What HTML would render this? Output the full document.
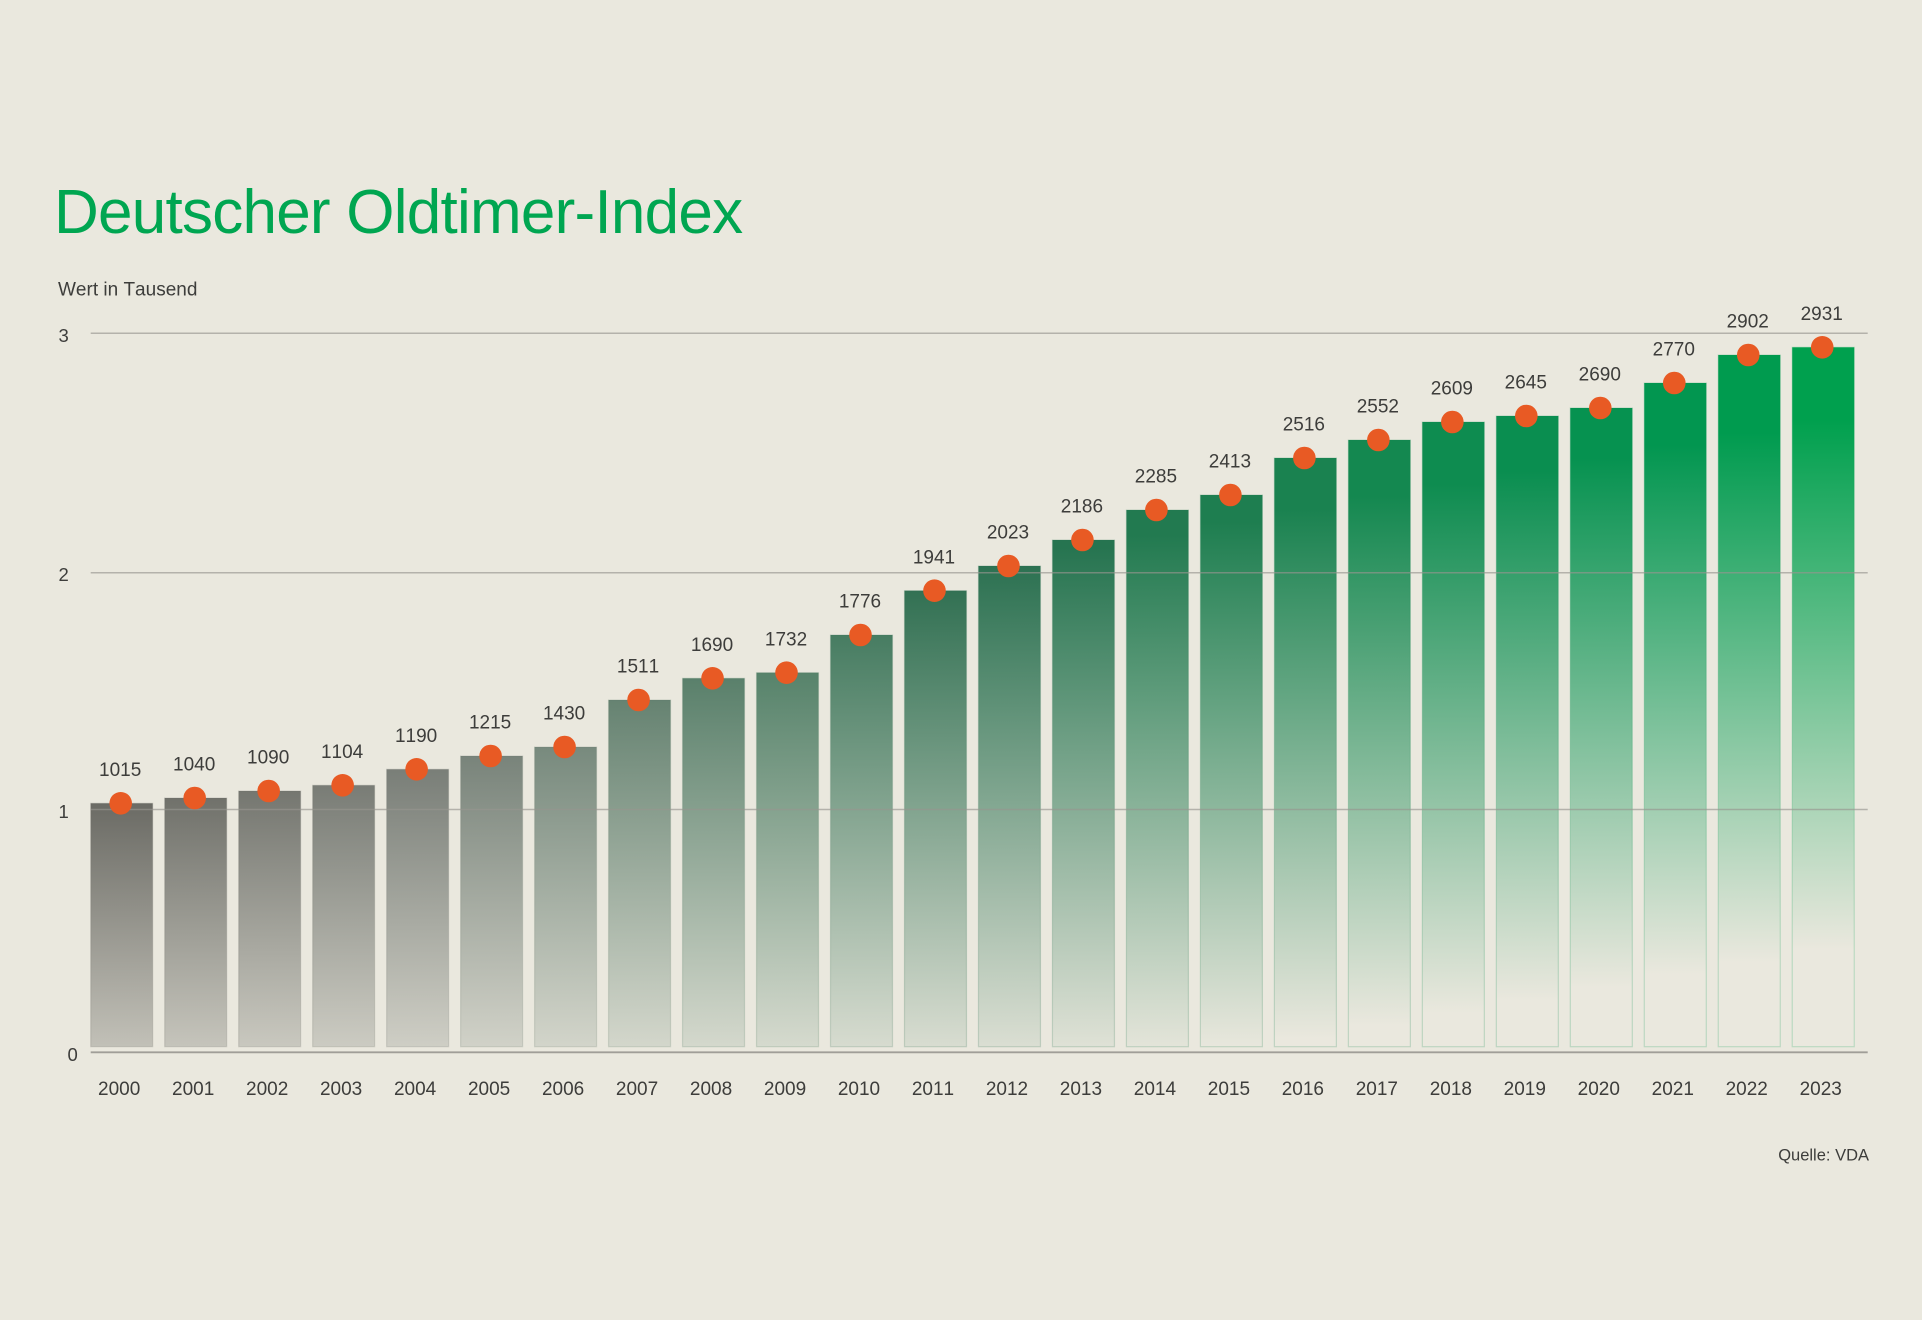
<!DOCTYPE html>
<html><head><meta charset="utf-8"><style>
html,body{margin:0;padding:0;background:#eae8de;}
svg{display:block;}
text{font-family:"Liberation Sans",Arial,sans-serif;font-kerning:none;}
</style></head><body>
<svg width="1922" height="1320" viewBox="0 0 1922 1320" xmlns="http://www.w3.org/2000/svg">
<rect x="0" y="0" width="1922" height="1320" fill="#eae8de"/>
<defs>
<linearGradient id="g0" gradientUnits="userSpaceOnUse" x1="0" x2="0" y1="790" y2="1160"><stop offset="0" stop-color="rgb(102,102,96)"/><stop offset="1" stop-color="rgb(102,102,96)" stop-opacity="0"/></linearGradient>
<linearGradient id="g1" gradientUnits="userSpaceOnUse" x1="0" x2="0" y1="771" y2="1154"><stop offset="0" stop-color="rgb(103,104,98)"/><stop offset="1" stop-color="rgb(103,104,98)" stop-opacity="0"/></linearGradient>
<linearGradient id="g2" gradientUnits="userSpaceOnUse" x1="0" x2="0" y1="752" y2="1148"><stop offset="0" stop-color="rgb(104,106,100)"/><stop offset="1" stop-color="rgb(104,106,100)" stop-opacity="0"/></linearGradient>
<linearGradient id="g3" gradientUnits="userSpaceOnUse" x1="0" x2="0" y1="732" y2="1143"><stop offset="0" stop-color="rgb(104,108,102)"/><stop offset="1" stop-color="rgb(104,108,102)" stop-opacity="0"/></linearGradient>
<linearGradient id="g4" gradientUnits="userSpaceOnUse" x1="0" x2="0" y1="713" y2="1137"><stop offset="0" stop-color="rgb(104,110,104)"/><stop offset="1" stop-color="rgb(104,110,104)" stop-opacity="0"/></linearGradient>
<linearGradient id="g5" gradientUnits="userSpaceOnUse" x1="0" x2="0" y1="694" y2="1131"><stop offset="0" stop-color="rgb(102,115,106)"/><stop offset="1" stop-color="rgb(102,115,106)" stop-opacity="0"/></linearGradient>
<linearGradient id="g6" gradientUnits="userSpaceOnUse" x1="0" x2="0" y1="675" y2="1125"><stop offset="0" stop-color="rgb(98,120,107)"/><stop offset="1" stop-color="rgb(98,120,107)" stop-opacity="0"/></linearGradient>
<linearGradient id="g7" gradientUnits="userSpaceOnUse" x1="0" x2="0" y1="656" y2="1119"><stop offset="0" stop-color="rgb(88,120,102)"/><stop offset="1" stop-color="rgb(88,120,102)" stop-opacity="0"/></linearGradient>
<linearGradient id="g8" gradientUnits="userSpaceOnUse" x1="0" x2="0" y1="637" y2="1113"><stop offset="0" stop-color="rgb(76,118,96)"/><stop offset="1" stop-color="rgb(76,118,96)" stop-opacity="0"/></linearGradient>
<linearGradient id="g9" gradientUnits="userSpaceOnUse" x1="0" x2="0" y1="617" y2="1108"><stop offset="0" stop-color="rgb(68,118,92)"/><stop offset="1" stop-color="rgb(68,118,92)" stop-opacity="0"/></linearGradient>
<linearGradient id="g10" gradientUnits="userSpaceOnUse" x1="0" x2="0" y1="598" y2="1102"><stop offset="0" stop-color="rgb(58,116,88)"/><stop offset="1" stop-color="rgb(58,116,88)" stop-opacity="0"/></linearGradient>
<linearGradient id="g11" gradientUnits="userSpaceOnUse" x1="0" x2="0" y1="579" y2="1096"><stop offset="0" stop-color="rgb(46,110,80)"/><stop offset="1" stop-color="rgb(46,110,80)" stop-opacity="0"/></linearGradient>
<linearGradient id="g12" gradientUnits="userSpaceOnUse" x1="0" x2="0" y1="560" y2="1090"><stop offset="0" stop-color="rgb(42,112,80)"/><stop offset="1" stop-color="rgb(42,112,80)" stop-opacity="0"/></linearGradient>
<linearGradient id="g13" gradientUnits="userSpaceOnUse" x1="0" x2="0" y1="547" y2="1077"><stop offset="0" stop-color="rgb(38,116,80)"/><stop offset="1" stop-color="rgb(38,116,80)" stop-opacity="0"/></linearGradient>
<linearGradient id="g14" gradientUnits="userSpaceOnUse" x1="0" x2="0" y1="535" y2="1065"><stop offset="0" stop-color="rgb(34,122,80)"/><stop offset="1" stop-color="rgb(34,122,80)" stop-opacity="0"/></linearGradient>
<linearGradient id="g15" gradientUnits="userSpaceOnUse" x1="0" x2="0" y1="522" y2="1052"><stop offset="0" stop-color="rgb(30,126,80)"/><stop offset="1" stop-color="rgb(30,126,80)" stop-opacity="0"/></linearGradient>
<linearGradient id="g16" gradientUnits="userSpaceOnUse" x1="0" x2="0" y1="509" y2="1039"><stop offset="0" stop-color="rgb(26,130,80)"/><stop offset="1" stop-color="rgb(26,130,80)" stop-opacity="0"/></linearGradient>
<linearGradient id="g17" gradientUnits="userSpaceOnUse" x1="0" x2="0" y1="496" y2="1026"><stop offset="0" stop-color="rgb(20,136,80)"/><stop offset="1" stop-color="rgb(20,136,80)" stop-opacity="0"/></linearGradient>
<linearGradient id="g18" gradientUnits="userSpaceOnUse" x1="0" x2="0" y1="484" y2="1014"><stop offset="0" stop-color="rgb(14,140,80)"/><stop offset="1" stop-color="rgb(14,140,80)" stop-opacity="0"/></linearGradient>
<linearGradient id="g19" gradientUnits="userSpaceOnUse" x1="0" x2="0" y1="471" y2="1001"><stop offset="0" stop-color="rgb(10,142,80)"/><stop offset="1" stop-color="rgb(10,142,80)" stop-opacity="0"/></linearGradient>
<linearGradient id="g20" gradientUnits="userSpaceOnUse" x1="0" x2="0" y1="458" y2="988"><stop offset="0" stop-color="rgb(6,146,80)"/><stop offset="1" stop-color="rgb(6,146,80)" stop-opacity="0"/></linearGradient>
<linearGradient id="g21" gradientUnits="userSpaceOnUse" x1="0" x2="0" y1="445" y2="975"><stop offset="0" stop-color="rgb(2,150,80)"/><stop offset="1" stop-color="rgb(2,150,80)" stop-opacity="0"/></linearGradient>
<linearGradient id="g22" gradientUnits="userSpaceOnUse" x1="0" x2="0" y1="433" y2="963"><stop offset="0" stop-color="rgb(0,155,79)"/><stop offset="1" stop-color="rgb(0,155,79)" stop-opacity="0"/></linearGradient>
<linearGradient id="g23" gradientUnits="userSpaceOnUse" x1="0" x2="0" y1="420" y2="950"><stop offset="0" stop-color="rgb(0,160,78)"/><stop offset="1" stop-color="rgb(0,160,78)" stop-opacity="0"/></linearGradient>
</defs>

<text x="54" y="233" font-size="62" fill="#00a651" letter-spacing="-0.75">Deutscher Oldtimer-Index</text>
<text x="58" y="295.7" font-size="19" fill="#3d3d3b">Wert in Tausend</text>

<g stroke-width="1.2" stroke-opacity="0.2">
<rect x="90.7" y="803.3" width="62" height="243.4" fill="url(#g0)" stroke="rgb(102,102,96)"/>
<rect x="164.68" y="798" width="62" height="248.7" fill="url(#g1)" stroke="rgb(103,104,98)"/>
<rect x="238.66" y="791" width="62" height="255.7" fill="url(#g2)" stroke="rgb(104,106,100)"/>
<rect x="312.64" y="785.3" width="62" height="261.4" fill="url(#g3)" stroke="rgb(104,108,102)"/>
<rect x="386.62" y="769.3" width="62" height="277.4" fill="url(#g4)" stroke="rgb(104,110,104)"/>
<rect x="460.6" y="756" width="62" height="290.7" fill="url(#g5)" stroke="rgb(102,115,106)"/>
<rect x="534.58" y="747" width="62" height="299.7" fill="url(#g6)" stroke="rgb(98,120,107)"/>
<rect x="608.56" y="700" width="62" height="346.7" fill="url(#g7)" stroke="rgb(88,120,102)"/>
<rect x="682.54" y="678.3" width="62" height="368.4" fill="url(#g8)" stroke="rgb(76,118,96)"/>
<rect x="756.52" y="672.7" width="62" height="374" fill="url(#g9)" stroke="rgb(68,118,92)"/>
<rect x="830.5" y="635" width="62" height="411.7" fill="url(#g10)" stroke="rgb(58,116,88)"/>
<rect x="904.48" y="590.7" width="62" height="456" fill="url(#g11)" stroke="rgb(46,110,80)"/>
<rect x="978.46" y="566" width="62" height="480.7" fill="url(#g12)" stroke="rgb(42,112,80)"/>
<rect x="1052.44" y="540" width="62" height="506.7" fill="url(#g13)" stroke="rgb(38,116,80)"/>
<rect x="1126.42" y="510" width="62" height="536.7" fill="url(#g14)" stroke="rgb(34,122,80)"/>
<rect x="1200.4" y="495" width="62" height="551.7" fill="url(#g15)" stroke="rgb(30,126,80)"/>
<rect x="1274.38" y="458" width="62" height="588.7" fill="url(#g16)" stroke="rgb(26,130,80)"/>
<rect x="1348.36" y="440" width="62" height="606.7" fill="url(#g17)" stroke="rgb(20,136,80)"/>
<rect x="1422.34" y="422" width="62" height="624.7" fill="url(#g18)" stroke="rgb(14,140,80)"/>
<rect x="1496.32" y="416" width="62" height="630.7" fill="url(#g19)" stroke="rgb(10,142,80)"/>
<rect x="1570.3" y="408" width="62" height="638.7" fill="url(#g20)" stroke="rgb(6,146,80)"/>
<rect x="1644.28" y="383" width="62" height="663.7" fill="url(#g21)" stroke="rgb(2,150,80)"/>
<rect x="1718.26" y="355" width="62" height="691.7" fill="url(#g22)" stroke="rgb(0,155,79)"/>
<rect x="1792.24" y="347.3" width="62" height="699.4" fill="url(#g23)" stroke="rgb(0,160,78)"/>
</g>

<g stroke="rgb(150,149,143)" stroke-opacity="0.65" stroke-width="1.5">
<line x1="90.7" y1="333.3" x2="1867.7" y2="333.3"/>
<line x1="90.7" y1="572.7" x2="1867.7" y2="572.7"/>
<line x1="90.7" y1="809.5" x2="1867.7" y2="809.5"/>
</g>
<line x1="90.7" y1="1052.3" x2="1867.7" y2="1052.3" stroke="#a09e98" stroke-width="1.8"/>

<g font-size="18.5" fill="#3d3d3b">
<text x="58.5" y="341.8">3</text>
<text x="58.5" y="581.2">2</text>
<text x="58.5" y="818">1</text>
<text x="67.5" y="1061">0</text>
</g>

<g fill="#e85a24">
<circle cx="120.7" cy="803.3" r="11.3"/>
<circle cx="194.68" cy="798" r="11.3"/>
<circle cx="268.66" cy="791" r="11.3"/>
<circle cx="342.64" cy="785.3" r="11.3"/>
<circle cx="416.62" cy="769.3" r="11.3"/>
<circle cx="490.6" cy="756" r="11.3"/>
<circle cx="564.58" cy="747" r="11.3"/>
<circle cx="638.56" cy="700" r="11.3"/>
<circle cx="712.54" cy="678.3" r="11.3"/>
<circle cx="786.52" cy="672.7" r="11.3"/>
<circle cx="860.5" cy="635" r="11.3"/>
<circle cx="934.48" cy="590.7" r="11.3"/>
<circle cx="1008.46" cy="566" r="11.3"/>
<circle cx="1082.44" cy="540" r="11.3"/>
<circle cx="1156.42" cy="510" r="11.3"/>
<circle cx="1230.4" cy="495" r="11.3"/>
<circle cx="1304.38" cy="458" r="11.3"/>
<circle cx="1378.36" cy="440" r="11.3"/>
<circle cx="1452.34" cy="422" r="11.3"/>
<circle cx="1526.32" cy="416" r="11.3"/>
<circle cx="1600.3" cy="408" r="11.3"/>
<circle cx="1674.28" cy="383" r="11.3"/>
<circle cx="1748.26" cy="355" r="11.3"/>
<circle cx="1822.24" cy="347.3" r="11.3"/>
</g>

<g font-size="19" fill="#3d3d3b" text-anchor="middle">
<text x="120.2" y="776">1015</text>
<text x="194.18" y="770.7">1040</text>
<text x="268.16" y="763.7">1090</text>
<text x="342.14" y="758">1104</text>
<text x="416.12" y="742">1190</text>
<text x="490.1" y="728.7">1215</text>
<text x="564.08" y="719.7">1430</text>
<text x="638.06" y="672.7">1511</text>
<text x="712.04" y="651">1690</text>
<text x="786.02" y="645.4">1732</text>
<text x="860" y="607.7">1776</text>
<text x="933.98" y="563.4">1941</text>
<text x="1007.96" y="538.7">2023</text>
<text x="1081.94" y="512.7">2186</text>
<text x="1155.92" y="482.7">2285</text>
<text x="1229.9" y="467.7">2413</text>
<text x="1303.88" y="430.7">2516</text>
<text x="1377.86" y="412.7">2552</text>
<text x="1451.84" y="394.7">2609</text>
<text x="1525.82" y="388.7">2645</text>
<text x="1599.8" y="380.7">2690</text>
<text x="1673.78" y="355.7">2770</text>
<text x="1747.76" y="327.7">2902</text>
<text x="1821.74" y="320">2931</text>
</g>

<g font-size="19" fill="#3d3d3b" text-anchor="middle">
<text x="119.2" y="1095">2000</text>
<text x="193.18" y="1095">2001</text>
<text x="267.16" y="1095">2002</text>
<text x="341.14" y="1095">2003</text>
<text x="415.12" y="1095">2004</text>
<text x="489.1" y="1095">2005</text>
<text x="563.08" y="1095">2006</text>
<text x="637.06" y="1095">2007</text>
<text x="711.04" y="1095">2008</text>
<text x="785.02" y="1095">2009</text>
<text x="859" y="1095">2010</text>
<text x="932.98" y="1095">2011</text>
<text x="1006.96" y="1095">2012</text>
<text x="1080.94" y="1095">2013</text>
<text x="1154.92" y="1095">2014</text>
<text x="1228.9" y="1095">2015</text>
<text x="1302.88" y="1095">2016</text>
<text x="1376.86" y="1095">2017</text>
<text x="1450.84" y="1095">2018</text>
<text x="1524.82" y="1095">2019</text>
<text x="1598.8" y="1095">2020</text>
<text x="1672.78" y="1095">2021</text>
<text x="1746.76" y="1095">2022</text>
<text x="1820.74" y="1095">2023</text>
</g>

<text x="1869" y="1160.7" font-size="16.5" fill="#3d3d3b" text-anchor="end">Quelle: VDA</text>
</svg>
</body></html>
